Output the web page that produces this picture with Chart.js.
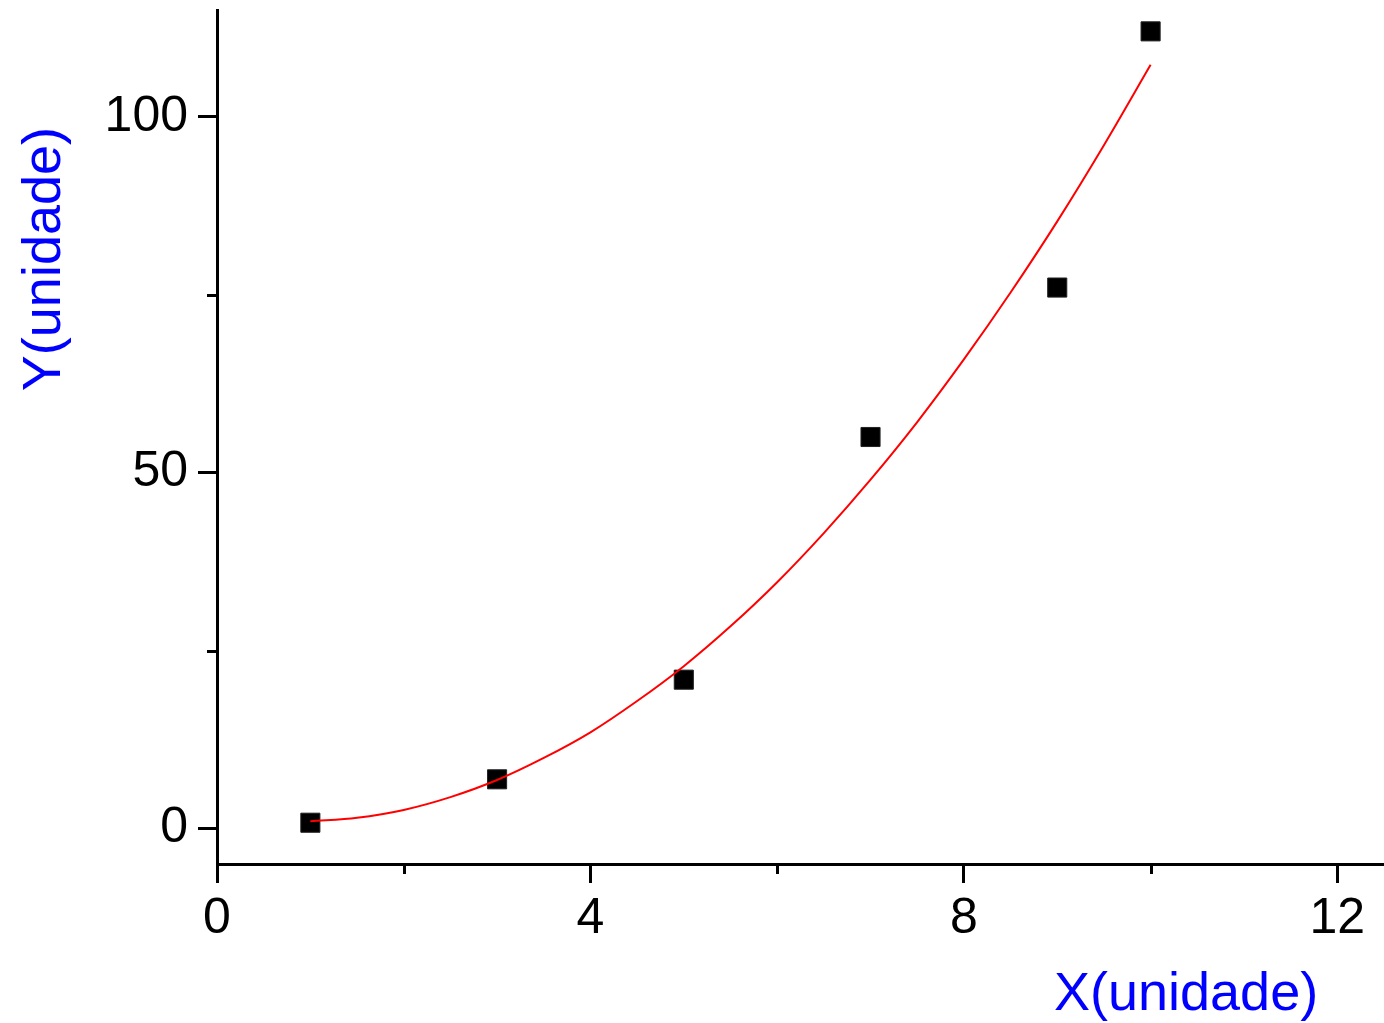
<!DOCTYPE html>
<html>
<head>
<meta charset="utf-8">
<script src="https://cdn.jsdelivr.net/npm/chart.js@4.4.1/dist/chart.umd.min.js"></script>
<style>
    body { margin: 0; background: #fff; }
    #wrap { width: 1384px; height: 1023px; }
</style>
</head>
<body>
<div id="wrap"><canvas id="myChart" width="1384" height="1023"></canvas></div>
<script>
// measured points
const xValues = [1, 3, 5, 7, 9, 10];
const yValues = [0.8, 6.9, 20.9, 55, 76, 112];

// red fitted curve
const fitX = [1, 1.5, 2, 2.5, 3, 3.5, 4, 4.5, 5, 5.5, 6, 6.5, 7, 7.5, 8, 8.5, 9, 9.5, 10];
const fitY = [1.0, 1.5, 2.6, 4.4, 6.8, 9.9, 13.5, 17.9, 22.8, 28.4, 34.6, 41.5, 49.0, 57.1, 65.9, 75.3, 85.3, 96.0, 107.3];

const xTickMajor = [0, 4, 8, 12];
const yTickMajor = [0, 50, 100];

const fontFamily = 'Arial, "Liberation Sans", sans-serif';

function toPoints(xs, ys) {
    const pts = [];
    for (let i = 0; i < xs.length; i++) {
        pts.push({x: xs[i], y: ys[i]});
    }
    return pts;
}

function isMajor(axis, value) {
    return (axis === 'x' ? xTickMajor : yTickMajor).indexOf(value) !== -1;
}

// no extra room for overhanging tick labels
function noPadding(s) {
    s.paddingTop = 0;
    s.paddingBottom = 0;
    s.paddingLeft = 0;
    s.paddingRight = 0;
}

// short minor ticks and the blue axis titles
const extras = {
    id: 'extras',
    afterDraw(chart) {
        const ctx = chart.ctx;
        const xs = chart.scales.x;
        const ys = chart.scales.y;
        ctx.save();
        ctx.strokeStyle = '#000';
        ctx.lineWidth = 3;
        xs.ticks.forEach(function (t) {
            if (!isMajor('x', t.value)) {
                const px = Math.round(xs.getPixelForValue(t.value)) + 0.5;
                ctx.beginPath();
                ctx.moveTo(px, xs.top);
                ctx.lineTo(px, xs.top + 10);
                ctx.stroke();
            }
        });
        ys.ticks.forEach(function (t) {
            if (!isMajor('y', t.value)) {
                const py = Math.round(ys.getPixelForValue(t.value)) + 0.5;
                ctx.beginPath();
                ctx.moveTo(ys.right, py);
                ctx.lineTo(ys.right - 10, py);
                ctx.stroke();
            }
        });

        ctx.fillStyle = '#0000ff';
        ctx.font = '54px ' + fontFamily;
        ctx.textAlign = 'center';
        ctx.textBaseline = 'alphabetic';
        ctx.fillText('X(unidade)', xs.getPixelForValue(10.38), chart.height - 13);

        ctx.translate(60, ys.getPixelForValue(80));
        ctx.rotate(-Math.PI / 2);
        ctx.fillText('Y(unidade)', 0, 0);
        ctx.restore();
    }
};

const data = {
    datasets: [
        {
            label: 'fit',
            type: 'line',
            data: toPoints(fitX, fitY),
            borderColor: '#ff0000',
            borderWidth: 2,
            pointRadius: 0,
            cubicInterpolationMode: 'monotone',
            fill: false
        },
        {
            label: 'dados',
            type: 'scatter',
            data: toPoints(xValues, yValues),
            pointStyle: 'rect',
            pointRadius: 13.5,
            pointHoverRadius: 13.5,
            backgroundColor: '#000',
            borderColor: '#222',
            borderWidth: 1
        }
    ]
};

const tickFont = {family: fontFamily, size: 50};

const config = {
    type: 'scatter',
    data: data,
    plugins: [extras],
    options: {
        responsive: false,
        animation: false,
        layout: {autoPadding: false, padding: {top: 10, right: 0, left: 0, bottom: 0}},
        plugins: {
            legend: {display: false},
            tooltip: {enabled: false}
        },
        scales: {
            x: {
                type: 'linear',
                min: 0,
                max: 12.5,
                afterFit: function (s) { s.height = 1023 - 10 - 854; noPadding(s); },
                border: {display: true, color: '#000', width: 3},
                grid: {
                    drawOnChartArea: false,
                    drawTicks: true,
                    tickLength: 19,
                    tickWidth: 3,
                    tickColor: function (c) { return c.tick && isMajor('x', c.tick.value) ? '#000' : 'rgba(0,0,0,0)'; }
                },
                ticks: {
                    stepSize: 2,
                    includeBounds: false,
                    autoSkip: false,
                    maxRotation: 0,
                    padding: 6,
                    color: '#000',
                    font: tickFont,
                    callback: function (v) { return isMajor('x', v) ? v : ''; }
                }
            },
            y: {
                type: 'linear',
                min: -5,
                max: 115,
                afterFit: function (s) { s.width = 217; noPadding(s); },
                border: {display: true, color: '#000', width: 3},
                grid: {
                    drawOnChartArea: false,
                    drawTicks: true,
                    tickLength: 19,
                    tickWidth: 3,
                    tickColor: function (c) { return c.tick && isMajor('y', c.tick.value) ? '#000' : 'rgba(0,0,0,0)'; }
                },
                ticks: {
                    stepSize: 25,
                    includeBounds: false,
                    autoSkip: false,
                    padding: 10,
                    color: '#000',
                    font: tickFont,
                    callback: function (v) { return isMajor('y', v) ? v : ''; }
                }
            }
        }
    }
};

const myChart = new Chart(document.getElementById('myChart').getContext('2d'), config);
</script>
</body>
</html>
